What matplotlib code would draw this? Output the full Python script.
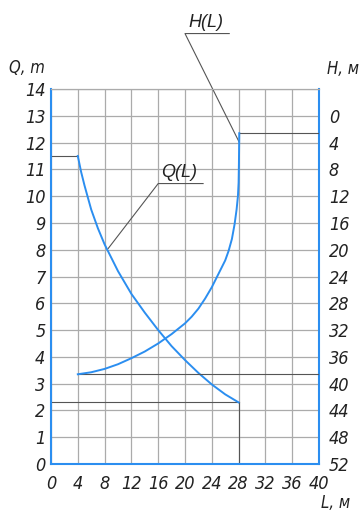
import matplotlib
matplotlib.use("Agg")
import matplotlib.pyplot as plt

# Flow rate Q(L) and head H(L) versus length L
L_q = [4, 4.5, 5, 6, 7, 8, 10, 12, 14, 16, 18, 20, 22, 24, 26, 28]
Q_vals = [11.5, 10.9, 10.4, 9.5, 8.8, 8.2, 7.2, 6.35, 5.65, 5.0, 4.4, 3.88, 3.4, 2.97, 2.6, 2.3]

L_h = [4, 6, 8, 10, 12, 14, 16, 18, 20, 21, 22, 23, 24, 25, 26, 26.5, 27, 27.4,
       27.7, 27.9, 28.0, 28.05, 28.1]
H_vals = [38.6, 38.3, 37.8, 37.1, 36.2, 35.2, 34.0, 32.6, 31.0, 30.0, 28.8, 27.3,
          25.6, 23.6, 21.6, 20.2, 18.4, 16.2, 14.0, 12.0, 10.0, 7.0, 2.6]

x_ticks = list(range(0, 41, 4))
q_ticks = list(range(0, 15))
h_ticks = list(range(0, 53, 4))

BLUE = "#2b8ef0"
GRID = "#ababab"
INK = "#555555"
TXT = "#222222"
NARROW = ["DejaVu Sans"]
LABEL_FONT = ["Liberation Sans", "DejaVu Sans"]

W, H = 361, 511
fig = plt.figure(figsize=(W / 100, H / 100), dpi=100)
ax = fig.add_axes([51 / W, 1 - 464 / H, 268 / W, 375 / H])

ax.set_xlim(0, 40)
ax.set_ylim(0, 14)
ax.set_xticks(x_ticks)
ax.set_yticks(q_ticks)
ax.grid(True, color=GRID, lw=0.9)
ax.set_axisbelow(True)

for side in ("left", "bottom", "right"):
    ax.spines[side].set_color(BLUE)
    ax.spines[side].set_linewidth(1.5)
ax.spines["top"].set_color(GRID)
ax.spines["top"].set_linewidth(0.9)


def style_ticks(labels):
    for lab in labels:
        lab.set_family(NARROW)
        lab.set_style("oblique")
        lab.set_stretch("condensed")
        lab.set_fontsize(13)
        lab.set_color(TXT)


ax.tick_params(axis="both", length=0)
ax.tick_params(axis="y", pad=4)
ax.tick_params(axis="x", pad=8)
style_ticks(ax.get_xticklabels() + ax.get_yticklabels())

# Head axis on the right: H = 0 at the top, growing downwards
ax2 = ax.twinx()
ax2.set_ylim(52, -4)
ax2.set_yticks(h_ticks)
ax2.tick_params(axis="y", length=0, pad=7)
for s in ax2.spines.values():
    s.set_visible(False)
style_ticks(ax2.get_yticklabels())

# Construction lines at the curve ends
ax.plot([0, L_q[0]], [Q_vals[0], Q_vals[0]], color=INK, lw=0.8)
ax.plot([0, L_q[-1]], [Q_vals[-1], Q_vals[-1]], color=INK, lw=0.8)
ax.plot([L_q[-1], L_q[-1]], [0, Q_vals[-1]], color=INK, lw=0.8)
ax2.plot([L_h[0], 40], [H_vals[0], H_vals[0]], color=INK, lw=0.8)
ax2.plot([28, 40], [H_vals[-1], H_vals[-1]], color=INK, lw=0.8)

# Curves
ax.plot(L_q, Q_vals, color=BLUE, lw=1.4)
ax2.plot(L_h, H_vals, color=BLUE, lw=1.4)

# Leader lines and curve names
ax.plot([8.55, 16.0, 22.7], [8.05, 10.47, 10.47], color=INK, lw=0.8)
ax.text(19.1, 10.55, "Q(L)", ha="center", va="bottom", style="italic",
        family=LABEL_FONT, fontsize=13, color=TXT)
ax.plot([28.06, 20.0, 26.6], [12.03, 16.07, 16.07], color=INK, lw=0.8, clip_on=False)
ax.text(23.1, 16.15, "H(L)", ha="center", va="bottom", style="italic",
        family=LABEL_FONT, fontsize=13, color=TXT, clip_on=False)

# Axis names
for x, y, s in [(27, 68, "Q, m"), (343, 69, "H, м"), (336, 503, "L, м")]:
    fig.text(x / W, 1 - y / H, s, ha="center", va="center", style="oblique",
             stretch="condensed", family=NARROW, fontsize=12, color=TXT)

fig.savefig("out.png", dpi=100)
